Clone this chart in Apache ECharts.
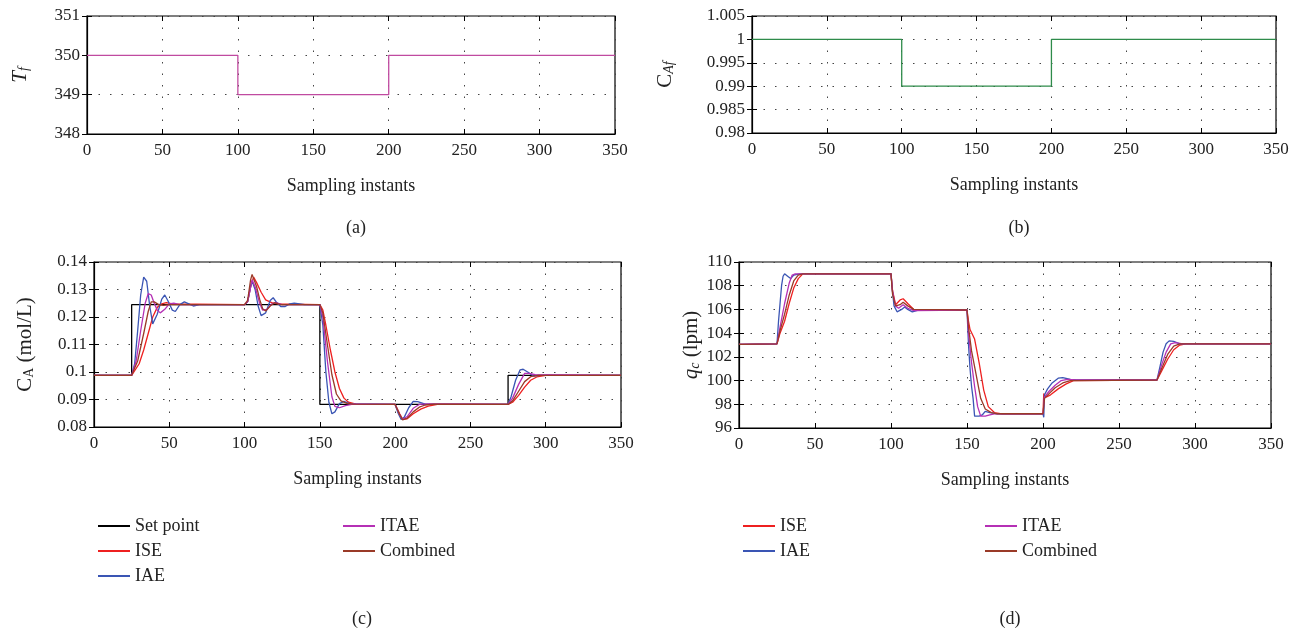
<!DOCTYPE html>
<html><head><meta charset="utf-8">
<script src="https://cdn.jsdelivr.net/npm/echarts@6/dist/echarts.min.js"></script>
<style>html,body{margin:0;padding:0;background:#fff}#c{width:1301px;height:631px}</style>
</head><body><div id="c"></div>
<script>
// ---------- data ----------
const xTicks = [0, 50, 100, 150, 200, 250, 300, 350];
const tfLine = [[0,350],[100,350],[100,349],[200,349],[200,350],[350,350]];
const cafLine = [[0,1],[100,1],[100,0.99],[200,0.99],[200,1],[350,1]];

const caSetPoint = [[0,0.0988],[25,0.0988],[25,0.1245],[150,0.1245],[150,0.0882],[275,0.0882],[275,0.0988],[350,0.0988]];
const caISE = [[0,0.0988],[25,0.0988],[30,0.103],[33,0.108],[36,0.114],[39,0.12],[42,0.1235],[45,0.1248],[48,0.1252],[52,0.1248],[100,0.1245],[102,0.1255],[104,0.131],[106,0.1345],[108,0.1325],[111,0.129],[114,0.1262],[118,0.1252],[122,0.1248],[150,0.1245],[152,0.1225],[154,0.117],[157,0.108],[160,0.1],[163,0.094],[166,0.0905],[169,0.089],[174,0.0883],[200,0.0882],[203,0.0848],[205,0.0828],[208,0.083],[212,0.0848],[217,0.0865],[222,0.0876],[228,0.0882],[275,0.0882],[278,0.089],[282,0.0915],[286,0.0945],[290,0.097],[294,0.0982],[300,0.0988],[350,0.0988]];
const caIAE = [[0,0.0988],[25,0.0988],[27,0.103],[29,0.115],[31,0.128],[33,0.1345],[34,0.135],[35,0.133],[37,0.124],[39,0.1175],[40,0.1175],[42,0.121],[45,0.1265],[47,0.128],[49,0.126],[52,0.1225],[54,0.122],[57,0.1245],[60,0.1255],[63,0.1248],[66,0.124],[70,0.1245],[100,0.1245],[102,0.1255],[104,0.131],[105,0.133],[107,0.13],[109,0.124],[111,0.1205],[112,0.12],[114,0.1215],[117,0.126],[119,0.127],[121,0.1255],[124,0.1238],[127,0.1238],[130,0.1248],[133,0.125],[140,0.1245],[150,0.1245],[152,0.117],[154,0.1],[156,0.089],[158,0.0848],[160,0.0855],[163,0.0885],[166,0.0893],[170,0.0884],[200,0.0882],[202,0.085],[204,0.0827],[206,0.0835],[209,0.087],[212,0.0893],[215,0.0892],[220,0.0883],[275,0.0882],[277,0.091],[280,0.097],[283,0.1008],[285,0.101],[288,0.1],[292,0.0985],[296,0.0988],[350,0.0988]];
const caITAE = [[0,0.0988],[25,0.0988],[28,0.104],[31,0.115],[34,0.125],[36,0.1285],[38,0.128],[40,0.125],[42,0.1225],[44,0.1215],[47,0.1228],[50,0.1248],[53,0.125],[57,0.1245],[100,0.1245],[102,0.1255],[105,0.1335],[107,0.131],[110,0.125],[112,0.1225],[115,0.1228],[118,0.1248],[121,0.1252],[125,0.1245],[150,0.1245],[152,0.12],[155,0.104],[158,0.091],[160,0.0875],[163,0.087],[167,0.0878],[172,0.0883],[200,0.0882],[203,0.0845],[205,0.0828],[208,0.0838],[212,0.0868],[216,0.0882],[222,0.0884],[275,0.0882],[278,0.0905],[282,0.0955],[286,0.0995],[289,0.0995],[293,0.099],[350,0.0988]];
const caComb = [[0,0.0988],[25,0.0988],[29,0.104],[33,0.114],[36,0.122],[38,0.1255],[40,0.1255],[43,0.1245],[46,0.1242],[50,0.1245],[100,0.1245],[102,0.126],[104,0.1335],[105,0.1355],[106,0.1355],[108,0.131],[110,0.1265],[112,0.123],[114,0.1222],[117,0.124],[120,0.1252],[124,0.1245],[150,0.1245],[152,0.1215],[155,0.11],[158,0.099],[161,0.092],[164,0.0895],[168,0.0886],[172,0.0883],[200,0.0882],[203,0.0845],[205,0.0826],[208,0.0832],[212,0.0855],[216,0.0872],[220,0.088],[226,0.0883],[275,0.0882],[278,0.0895],[282,0.093],[286,0.0965],[290,0.0983],[295,0.0988],[350,0.0988]];

const qcISE = [[0,103.05],[25,103.1],[27,104],[30,105],[33,106.5],[36,107.8],[39,108.6],[42,109],[100,109],[101,107.6],[103,106.4],[106,106.8],[108,106.9],[111,106.5],[115,106],[150,105.95],[151,105],[152,104.3],[155,103.5],[158,101.5],[161,99.2],[164,97.8],[168,97.3],[173,97.2],[200,97.2],[200.5,98.9],[202,98.6],[205,98.8],[210,99.3],[215,99.7],[220,100],[275,100.05],[278,100.8],[282,101.8],[286,102.6],[290,103],[294,103.1],[350,103.1]];
const qcIAE = [[0,103.05],[25,103.1],[26,105],[27,106.5],[28,108],[29,108.8],[30,109],[32,108.8],[34,108.6],[36,108.9],[40,109],[100,109],[101,107.5],[102,106.3],[104,105.8],[105,105.7],[107,106],[109,106.2],[111,106],[114,105.8],[118,105.95],[150,105.95],[151,103],[152,101],[153,99.5],[154,98.5],[155,97],[158,97],[160,97.1],[162,97.4],[165,97.3],[170,97.2],[200,97.2],[200.5,96.9],[201,98.8],[203,99.3],[206,99.8],[210,100.2],[213,100.25],[218,100.1],[222,100.05],[275,100.05],[277,101.2],[279,102.4],[281,103.1],[283,103.35],[286,103.3],[290,103.1],[350,103.1]];
const qcITAE = [[0,103.05],[25,103.1],[27,104.5],[30,106.5],[33,108.2],[35,108.9],[37,109],[100,109],[101,107.5],[103,106.3],[105,106.1],[108,106.4],[111,106.1],[115,105.9],[150,105.95],[151,104],[153,101.5],[155,99.5],[157,97.8],[159,97],[162,97],[165,97.1],[168,97.2],[200,97.2],[201,98.6],[204,99.1],[208,99.6],[212,100],[216,100.1],[222,100.05],[275,100.05],[278,101.3],[281,102.4],[284,103.1],[287,103.2],[292,103.1],[350,103.1]];
const qcComb = [[0,103.05],[25,103.1],[27,104.2],[30,105.6],[33,107.2],[36,108.4],[39,108.9],[42,109],[100,109],[101,107.3],[103,106.3],[106,106.4],[108,106.6],[111,106.3],[115,106],[150,105.95],[151,104.5],[153,102.5],[156,100.5],[159,98.5],[162,97.6],[166,97.3],[170,97.2],[200,97.2],[201,98.5],[204,98.9],[208,99.4],[213,99.8],[218,100],[275,100.05],[278,101],[282,102.2],[286,102.9],[290,103.1],[350,103.1]];

// ---------- style ----------
const FONT = 'Liberation Serif';
const C = {sp:'#000000', ise:'#ee2020', iae:'#3a55b4', itae:'#b530b5', comb:'#9a3a28', tf:'#c04aa0', caf:'#2e8b4a'};

function xAxis(gi){
  return {type:'value', gridIndex:gi, min:0, max:350, interval:50,
    name:'Sampling instants', nameLocation:'middle', nameGap:43,
    nameTextStyle:{fontFamily:FONT, fontSize:18, color:'#222'},
    axisLine:{show:true, lineStyle:{color:'#000', width:1.2}},
    axisTick:{show:true, inside:true, length:5, lineStyle:{color:'#000'}},
    axisLabel:{fontFamily:FONT, fontSize:17, color:'#222', margin:8},
    splitLine:{show:true, lineStyle:{color:'#444', width:1, type:[1.5,10]}}};
}
function xAxisTop(gi){
  return {type:'value', gridIndex:gi, min:0, max:350, interval:50, position:'top',
    axisLine:{show:false}, axisTick:{show:true, inside:true, length:5, lineStyle:{color:'#000'}},
    axisLabel:{show:false}, splitLine:{show:false}};
}
function yAxis(gi, min, max, iv, name, gap, rich){
  return {type:'value', gridIndex:gi, min:min, max:max, interval:iv,
    name:name, nameLocation:'middle', nameGap:gap, nameRotate:90,
    nameTextStyle:{fontFamily:FONT, fontSize:20, color:'#222', rich:rich},
    axisLine:{show:true, lineStyle:{color:'#000', width:1.2}},
    axisTick:{show:true, inside:true, length:5, lineStyle:{color:'#000'}},
    axisLabel:{fontFamily:FONT, fontSize:17, color:'#222', margin:7,
      formatter:v=>String(parseFloat(v.toFixed(4)))},
    splitLine:{show:true, lineStyle:{color:'#444', width:1, type:[1.5,10]}}};
}
function yAxisRight(gi, min, max, iv){
  return {type:'value', gridIndex:gi, min:min, max:max, interval:iv, position:'right',
    axisLine:{show:false}, axisTick:{show:true, inside:true, length:5, lineStyle:{color:'#000'}},
    axisLabel:{show:false}, splitLine:{show:false}};
}
const richBase = {
  n:{fontFamily:FONT, fontSize:21, lineHeight:22, color:'#222'},
  i:{fontFamily:FONT, fontSize:21, fontStyle:'italic', lineHeight:22, color:'#222'},
  s:{fontFamily:FONT, fontSize:14, fontStyle:'italic', lineHeight:10, verticalAlign:'bottom', color:'#222'},
  su:{fontFamily:FONT, fontSize:14, lineHeight:10, verticalAlign:'bottom', color:'#222'}
};

function line(name, data, color, xi, yi){
  return {type:'line', name:name, data:data, xAxisIndex:xi, yAxisIndex:yi,
    showSymbol:false, symbol:'none', animation:false,
    lineStyle:{color:color, width:1.3}, itemStyle:{color:color}};
}

const legText = {fontFamily:FONT, fontSize:18, color:'#222'};
function legend(names, left, top){
  return {data:names, left:left, top:top, orient:'vertical', icon:'rect',
    itemWidth:32, itemHeight:2, itemGap:7, textStyle:legText, selectedMode:false,
    formatter:n=>n.replace(/ [cd]$/,'')};
}
const capStyle = {fontFamily:FONT, fontSize:18, fontWeight:'normal', color:'#222'};

const option = {
  backgroundColor:'#fff',
  animation:false,
  grid:[
    {left:87, top:16, width:528, height:118, show:true, borderColor:'#000', borderWidth:1.2},
    {left:752, top:16, width:524, height:117, show:true, borderColor:'#000', borderWidth:1.2},
    {left:94, top:262, width:527, height:165, show:true, borderColor:'#000', borderWidth:1.2},
    {left:739, top:262, width:532, height:166, show:true, borderColor:'#000', borderWidth:1.2}
  ],
  xAxis:[xAxis(0), xAxis(1), xAxis(2), xAxis(3), xAxisTop(0), xAxisTop(1), xAxisTop(2), xAxisTop(3)],
  yAxis:[
    yAxis(0, 348, 351, 1, '{i|T}{s|f}', 56, richBase),
    yAxis(1, 0.98, 1.005, 0.005, '{n|C}{s|Af}', 76, richBase),
    yAxis(2, 0.08, 0.14, 0.01, '{n|C}{su|A}{n| (mol/L)}', 58, richBase),
    yAxis(3, 96, 110, 2, '{i|q}{s|c}{n| (lpm)}', 37, richBase),
    yAxisRight(0, 348, 351, 1), yAxisRight(1, 0.98, 1.005, 0.005),
    yAxisRight(2, 0.08, 0.14, 0.01), yAxisRight(3, 96, 110, 2)
  ],
  legend:[
    legend(['Set point','ISE c','IAE c'], 93, 512),
    legend(['ITAE c','Combined c'], 338, 512),
    legend(['ISE d','IAE d'], 738, 512),
    legend(['ITAE d','Combined d'], 980, 512)
  ],
  title:[
    {text:'(a)', left:351, top:214, textAlign:'center', textStyle:capStyle},
    {text:'(b)', left:1014, top:214, textAlign:'center', textStyle:capStyle},
    {text:'(c)', left:357, top:605, textAlign:'center', textStyle:capStyle},
    {text:'(d)', left:1005, top:605, textAlign:'center', textStyle:capStyle}
  ],
  series:[
    line('Tf', tfLine, C.tf, 0, 0),
    line('CAf', cafLine, C.caf, 1, 1),
    line('Set point', caSetPoint, C.sp, 2, 2),
    line('ISE c', caISE, C.ise, 2, 2),
    line('IAE c', caIAE, C.iae, 2, 2),
    line('ITAE c', caITAE, C.itae, 2, 2),
    line('Combined c', caComb, C.comb, 2, 2),
    line('ISE d', qcISE, C.ise, 3, 3),
    line('IAE d', qcIAE, C.iae, 3, 3),
    line('ITAE d', qcITAE, C.itae, 3, 3),
    line('Combined d', qcComb, C.comb, 3, 3)
  ]
};
const chart = echarts.init(document.getElementById('c'), null, {renderer:'canvas'});
chart.setOption(option);
</script></body></html>
